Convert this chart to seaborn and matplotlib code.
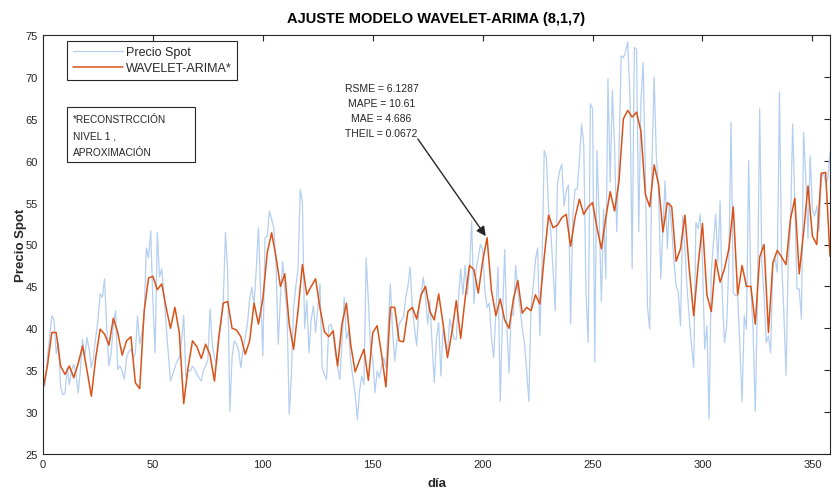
import numpy as np
import pandas as pd
import matplotlib
matplotlib.use("Agg")
import matplotlib.pyplot as plt
from matplotlib.patches import Rectangle
import seaborn as sns

# ---------------- data ----------------
precio_spot = [
    33.0, 33.2, 36.5, 39.0, 41.5, 41.0, 37.0, 38.3, 33.0, 32.1,
    32.2, 35.3, 33.3, 35.0, 35.7, 34.5, 32.3, 35.0, 38.7, 36.5,
    38.9, 37.5, 35.3, 36.5, 39.0, 41.0, 44.1, 43.7, 45.9, 40.0,
    35.5, 37.0, 40.5, 42.1, 35.1, 35.5, 34.9, 33.9, 36.5, 37.2,
    37.5, 36.5, 37.0, 41.5, 38.1, 39.5, 41.3, 49.6, 48.4, 51.6,
    43.1, 37.1, 51.4, 46.1, 47.1, 44.0, 40.5, 37.0, 33.7, 34.5,
    35.3, 36.1, 36.5, 38.5, 41.5, 34.1, 35.0, 34.9, 35.5, 35.1,
    34.5, 34.1, 33.7, 35.0, 35.5, 36.3, 42.3, 38.1, 36.5, 35.7,
    38.9, 40.5, 43.3, 51.4, 46.8, 30.1, 36.5, 38.5, 38.1, 37.3,
    35.3, 37.5, 38.9, 40.5, 43.5, 44.9, 42.9, 47.0, 52.0, 44.5,
    36.7, 50.8, 51.0, 54.0, 53.0, 52.0, 47.6, 38.1, 43.6, 48.0,
    44.5, 42.1, 29.7, 34.5, 42.5, 45.0, 47.1, 56.6, 55.0, 40.0,
    43.3, 37.1, 41.0, 42.7, 39.5, 42.5, 45.3, 35.3, 34.5, 33.9,
    40.3, 40.5, 39.3, 36.9, 35.5, 33.9, 38.1, 43.7, 38.7, 39.7,
    36.0, 34.1, 32.1, 29.1, 32.5, 34.3, 33.3, 48.4, 43.3, 37.5,
    36.5, 32.3, 34.9, 34.1, 35.5, 36.5, 35.3, 40.1, 45.3, 39.7,
    36.1, 38.5, 40.5, 41.0, 41.3, 43.7, 45.0, 47.3, 42.5, 40.0,
    37.9, 42.5, 44.0, 46.1, 43.7, 40.5, 43.3, 38.1, 33.5, 38.9,
    40.7, 34.3, 40.0, 38.1, 37.0, 41.1, 40.0, 38.7, 38.7, 43.5,
    47.1, 44.0, 47.5, 44.0, 47.0, 52.8, 42.9, 47.0, 48.5, 50.0,
    49.5, 44.5, 42.5, 43.0, 38.9, 36.5, 42.0, 47.3, 31.3, 41.0,
    49.4, 40.0, 34.7, 42.0, 41.5, 47.5, 44.5, 42.5, 40.0, 38.3,
    35.0, 31.3, 42.5, 45.0, 48.2, 49.6, 39.1, 47.5, 61.2, 60.4,
    54.2, 51.5, 47.0, 42.1, 57.2, 58.8, 59.6, 54.6, 56.4, 57.1,
    40.5, 53.4, 56.6, 56.6, 60.0, 64.4, 61.8, 44.3, 38.3, 66.8,
    66.2, 36.0, 61.2, 53.4, 43.2, 54.2, 45.9, 69.8, 57.4, 68.4,
    61.8, 51.5, 60.6, 72.5, 72.3, 73.0, 74.2, 67.8, 47.1, 73.5,
    73.3, 51.5, 67.0, 71.7, 58.6, 42.5, 39.9, 59.8, 70.0, 60.6,
    56.6, 45.9, 52.0, 57.6, 49.5, 55.0, 51.9, 48.0, 45.1, 44.3,
    40.3, 53.4, 49.5, 44.7, 41.1, 38.0, 35.3, 52.6, 51.9, 53.6,
    47.9, 37.5, 40.3, 29.2, 46.7, 50.3, 53.6, 47.9, 55.2, 43.9,
    38.3, 40.3, 47.9, 64.6, 44.3, 43.9, 43.9, 37.9, 31.2, 41.5,
    39.9, 60.0, 44.7, 39.9, 30.1, 43.1, 66.2, 47.9, 43.9, 38.3,
    39.1, 37.1, 47.9, 48.3, 46.7, 68.2, 47.9, 41.9, 34.4, 47.9,
    51.9, 64.4, 55.0, 44.7, 44.7, 41.1, 63.4, 57.8, 50.7, 60.6,
    54.2, 53.4, 54.6, 51.6, 57.8, 58.6, 57.4, 57.8, 61.0,
]

dias_modelo = list(range(0, 360, 2))
wavelet_arima = [
    32.8, 35.5, 39.5, 39.5, 35.5, 34.5, 35.5, 34.1, 35.8, 37.9,
    35.0, 31.9, 36.5, 39.9, 39.3, 38.0, 41.2, 39.5, 36.8, 38.5,
    39.0, 33.5, 32.8, 42.0, 46.0, 46.2, 44.6, 45.3, 42.5, 40.0,
    42.5, 39.5, 31.0, 35.3, 38.5, 37.8, 36.4, 38.1, 36.8, 33.7,
    39.0, 43.0, 43.2, 40.0, 39.8, 39.0, 36.9, 38.5, 43.0, 40.5,
    43.5, 49.0, 51.4, 48.5, 45.0, 46.5, 40.5, 37.5, 42.1, 47.6,
    44.0, 45.0, 45.9, 42.4, 39.6, 39.0, 39.7, 35.5, 40.5, 43.0,
    38.0, 34.8, 36.2, 37.5, 33.8, 39.5, 40.3, 36.9, 33.0, 42.5,
    42.5, 38.5, 38.4, 42.0, 42.5, 41.1, 44.0, 45.0, 42.0, 41.0,
    44.1, 40.5, 36.5, 39.5, 43.3, 38.8, 43.5, 47.5, 47.0, 44.2,
    48.0, 50.8, 44.5, 41.5, 43.5, 41.0, 40.0, 43.5, 45.7, 41.8,
    42.5, 42.1, 44.0, 42.9, 48.5, 53.5, 52.0, 52.3, 53.2, 53.6,
    49.8, 53.2, 55.4, 53.6, 54.5, 55.0, 52.0, 49.5, 53.2, 56.3,
    54.0, 57.5, 65.0, 66.0, 65.2, 65.8, 63.5, 56.0, 54.5, 59.5,
    57.2, 51.5, 55.0, 54.5, 48.0, 49.5, 53.5, 47.0, 41.5, 47.5,
    52.5, 44.0, 42.0, 48.2, 45.5, 47.1, 49.5, 54.5, 44.0, 47.5,
    45.0, 45.0, 40.5, 48.5, 50.0, 39.5, 47.8, 49.3, 48.5, 47.6,
    53.0, 55.5, 46.5, 51.5, 57.0, 51.0, 50.0, 58.5, 58.6, 48.6,
]

x_ticks = [0, 50, 100, 150, 200, 250, 300, 350]
y_ticks = [25, 30, 35, 40, 45, 50, 55, 60, 65, 70, 75]
metricas = "RSME = 6.1287\nMAPE = 10.61\nMAE = 4.686\nTHEIL = 0.0672"
nota = "*RECONSTRCCIÓN\nNIVEL 1 ,\nAPROXIMACIÓN"

df_spot = pd.DataFrame({"dia": np.arange(len(precio_spot)), "valor": precio_spot})
df_mod = pd.DataFrame({"dia": dias_modelo, "valor": wavelet_arima})

# ---------------- figure ----------------
sns.set_style("white")
plt.rcParams["font.family"] = ["Liberation Sans", "DejaVu Sans"]

fig = plt.figure(figsize=(8.32, 4.89), dpi=100)
ax = fig.add_axes([43 / 832, 1 - 455 / 489, 787 / 832, 419 / 489])

sns.lineplot(data=df_spot, x="dia", y="valor", ax=ax, color="#b4cff0",
             linewidth=0.9, label="Precio Spot")
sns.lineplot(data=df_mod, x="dia", y="valor", ax=ax, color="#d95319",
             linewidth=1.1, label="WAVELET-ARIMA*",
             solid_joinstyle="round")

ax.set_xlim(0, 358)
ax.set_ylim(25, 75)
ax.set_xticks(x_ticks)
ax.set_yticks(y_ticks)
ax.tick_params(axis="both", direction="in", length=4, width=0.8,
               labelsize=8, colors="#262626", top=True, right=True)
for s in ax.spines.values():
    s.set_color("#262626")
    s.set_linewidth(0.8)

ax.set_title("AJUSTE MODELO WAVELET-ARIMA (8,1,7)", fontsize=10.5,
             fontweight="bold", pad=9, color="black")
ax.set_xlabel("día", fontsize=9.5, fontweight="bold", labelpad=6)
ax.set_ylabel("Precio Spot", fontsize=9.5, fontweight="bold", labelpad=-1)

leg = ax.legend(loc="upper left", bbox_to_anchor=(0.0305, 0.986),
                frameon=True, fancybox=False, framealpha=1, edgecolor="#262626",
                fontsize=9, borderpad=0.45, labelspacing=0.3,
                handlelength=4.0, handletextpad=0.25, borderaxespad=0)
leg.get_frame().set_linewidth(0.8)

ax.add_patch(Rectangle((0.0305, 0.697), 0.1626, 0.131, transform=ax.transAxes,
                       fill=False, edgecolor="#262626", linewidth=0.8))
ax.text(0.038, 0.811, nota, transform=ax.transAxes, ha="left", va="top",
        fontsize=7.3, linespacing=1.8, color="#262626")

ax.text(154, 66.0, metricas, ha="center", va="center", fontsize=7.5,
        linespacing=1.65, color="#262626")
ax.annotate("", xy=(201.4, 51.0), xytext=(170.5, 62.6),
            arrowprops=dict(arrowstyle="-|>", color="#262626", lw=1.0,
                            mutation_scale=14, shrinkA=0, shrinkB=0))

fig.savefig("out.png", dpi=100)
